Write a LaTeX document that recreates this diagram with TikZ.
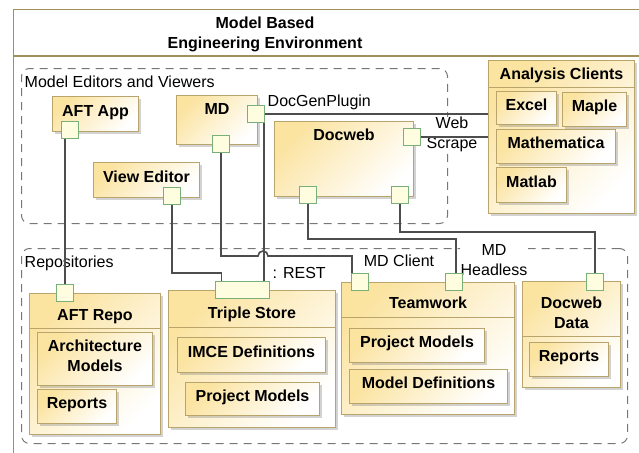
\documentclass[tikz,border=0pt]{standalone}
\usepackage{fontspec}
\setmainfont{Liberation Sans}
\usetikzlibrary{calc,shadows,backgrounds}
\definecolor{boxgold}{HTML}{FBE3A0}
\definecolor{boxline}{HTML}{B9A46C}
\definecolor{portfill}{HTML}{FFFDE0}
\definecolor{portline}{HTML}{79B07A}
\definecolor{wiregray}{HTML}{4D4D4D}
\definecolor{frameline}{HTML}{A38F58}
\definecolor{regionline}{HTML}{777777}
\pgfdeclarelayer{wires}
\pgfsetlayers{background,wires,main}

\begin{document}
\begin{tikzpicture}[x=1pt,y=-1pt,
    font=\fontsize{16}{20}\selectfont,
    box/.style={draw=boxline, line width=1pt, top color=boxgold, bottom color=white,
      shading angle=45, drop shadow={shadow xshift=2pt, shadow yshift=-2pt, opacity=.35},
      anchor=north west, inner sep=0pt, align=center,
      font=\fontsize{16}{20}\selectfont\bfseries, text height=11.5pt, text depth=7pt},
    ttl/.style={inner sep=0pt, align=center, font=\fontsize{16}{20}\selectfont\bfseries,
      text height=11.5pt, text depth=0pt},
    lab/.style={inner sep=0.5pt, align=center, text height=11.5pt, text depth=0pt},
    twolines/.style={text height=31.5pt},
    port/.style={draw=portline, fill=portfill, line width=1pt, minimum width=17pt,
      minimum height=17pt, inner sep=0pt},
    region/.style={draw=regionline, line width=1pt, dash pattern=on 8pt off 6pt,
      rounded corners=8pt, anchor=north west, inner sep=0pt},
    frame/.style={draw=frameline, line width=1.2pt, anchor=north west, inner sep=0pt},
    sep/.style={draw=boxline, line width=1pt},
    wire/.style={draw=wiregray, line width=1.6pt}]
      \useasboundingbox (0,0) rectangle (639,452);

      \begin{scope}[on background layer]
        \node[frame, minimum width=700pt, minimum height=500pt] (env) at (13,9) {};
        \draw[draw=frameline, line width=1.2pt] ($(env.north west)+(0,47)$) -- ($(env.north east)+(0,47)$);
        \node[ttl, twolines] (env-t) at (265,33) {Model Based\\Engineering Environment};

        \node[region, minimum width=426pt, minimum height=155pt] (editors) at (21,68) {};
        \node[region, minimum width=606pt, minimum height=195pt] (repos) at (21,248) {};
        \node[lab, anchor=west] (editors-l) at (24,82) {Model Editors and Viewers};
        \node[lab, anchor=west] (repos-l) at (24,262) {Repositories};

        \node[lab, anchor=west] (docgen-l) at (267,101) {DocGenPlugin};
        \node[lab, twolines, fill=white] (scrape-l) at (452,133) {Web\\Scrape};
        \node[lab, anchor=west] (rest-l) at (272,273) {: REST};
        \node[lab] (client-l) at (399,261) {MD Client};
        \node[lab, twolines, fill=white] (headless-l) at (494,260) {MD\\Headless};
      \end{scope}

      \node[box, minimum width=86pt, minimum height=35pt] (aftapp) at (52,96) {AFT App};
      \node[box, minimum width=81pt, minimum height=49pt] (md) at (176,95) {};
      \node[ttl] (md-t) at ($(md.north)+(0,14)$) {MD};
      \node[box, minimum width=106pt, minimum height=35pt] (viewed) at (93,162) {View Editor};
      \node[box, minimum width=139pt, minimum height=75pt] (docweb) at (274,121) {};
      \node[ttl] (docweb-t) at ($(docweb.north)+(0,14)$) {Docweb};

      \node[box, minimum width=146pt, minimum height=153pt] (ac) at (488,60) {};
      \draw[sep] ($(ac.north west)+(0,27)$) -- ($(ac.north east)+(0,27)$);
      \node[ttl] (ac-t) at ($(ac.north)+(0,14)$) {Analysis Clients};
      \node[box, minimum width=60pt, minimum height=33pt] (excel) at (496,91) {Excel};
      \node[box, minimum width=64pt, minimum height=34pt] (maple) at (562,92) {Maple};
      \node[box, minimum width=119pt, minimum height=34pt] (mathematica) at (496,129) {Mathematica};
      \node[box, minimum width=70pt, minimum height=35pt] (matlab) at (496,167) {Matlab};

      \node[box, minimum width=131pt, minimum height=141pt] (aftrepo) at (29,293) {};
      \draw[sep] ($(aftrepo.north west)+(0,35)$) -- ($(aftrepo.north east)+(0,35)$);
      \node[ttl] (aftrepo-t) at ($(aftrepo.north)+(0,22)$) {AFT Repo};
      \node[box, twolines, minimum width=115pt, minimum height=53pt] (archmod) at (37,332) {Architecture\\Models};
      \node[box, minimum width=79pt, minimum height=34pt] (aftreports) at (37,389) {Reports};

      \node[box, minimum width=167pt, minimum height=137pt] (ts) at (168,290) {};
      \draw[sep] ($(ts.north west)+(0,37)$) -- ($(ts.north east)+(0,37)$);
      \node[ttl] (ts-t) at ($(ts.north)+(0,23)$) {Triple Store};
      \node[box, minimum width=148pt, minimum height=35pt] (imce) at (177,337) {IMCE Definitions};
      \node[box, minimum width=134pt, minimum height=33pt] (tsproj) at (185,382) {Project Models};

      \node[box, minimum width=173pt, minimum height=132pt] (tw) at (341,282) {};
      \draw[sep] ($(tw.north west)+(0,35)$) -- ($(tw.north east)+(0,35)$);
      \node[ttl] (tw-t) at ($(tw.north)+(0,21)$) {Teamwork};
      \node[box, minimum width=135pt, minimum height=34pt] (twproj) at (349,328) {Project Models};
      \node[box, minimum width=158pt, minimum height=34pt] (twdefs) at (349,369) {Model Definitions};

      \node[box, minimum width=98pt, minimum height=106pt] (dd) at (522,281) {};
      \draw[sep] ($(dd.north west)+(0,55)$) -- ($(dd.north east)+(0,55)$);
      \node[ttl, twolines] (dd-t) at ($(dd.north)+(0,32)$) {Docweb\\Data};
      \node[box, minimum width=79pt, minimum height=34pt] (ddreports) at (529,342) {Reports};

      \node[port] (aftapp-p) at (70,130) {};
      \node[port] (md-pr) at (256,114) {};
      \node[port] (md-pb) at (221,144) {};
      \node[port] (viewed-p) at (172,196) {};
      \node[port] (docweb-pr) at (412,137) {};
      \node[port] (docweb-pl) at (308,195) {};
      \node[port] (docweb-pb) at (400,195) {};
      \node[port] (aftrepo-p) at (65,293) {};
      \node[port, minimum width=54pt] (ts-p) at (242,290) {};
      \node[port] (tw-pl) at (360,282) {};
      \node[port] (tw-pr) at (454,282) {};
      \node[port] (dd-p) at (595,282) {};

      \begin{pgfonlayer}{wires}
        \draw[wire] (aftrepo-p) -- (aftrepo-p |- aftapp-p);
        \draw[wire] (md-pr) -- (md-pr -| ac.west);
        \coordinate (rest) at ($(md-pr.east)+(-1,0)$);
        \draw[wire] (rest) -- (rest |- ts-p.north);
        \draw[wire] (md-pb) |- (258,256) arc[start angle=180, end angle=0, radius=5pt] -| ($(tw-pl.north west)+(1,0)$);
        \draw[wire] (viewed-p) |- ($(ts-p.north west)+(7,-8)$) -- ($(ts-p.north west)+(7,0)$);
        \draw[wire] (docweb-pl) |- ($(tw-pr.north)+(2,-34)$) -- ($(tw-pr.north)+(2,0)$);
        \draw[wire] (docweb-pb) |- ($(dd-p.north)+(0,-41)$) -- (dd-p);
        \draw[wire] (docweb-pr) -- (docweb-pr -| ac.west);
      \end{pgfonlayer}
\end{tikzpicture}
\end{document}
